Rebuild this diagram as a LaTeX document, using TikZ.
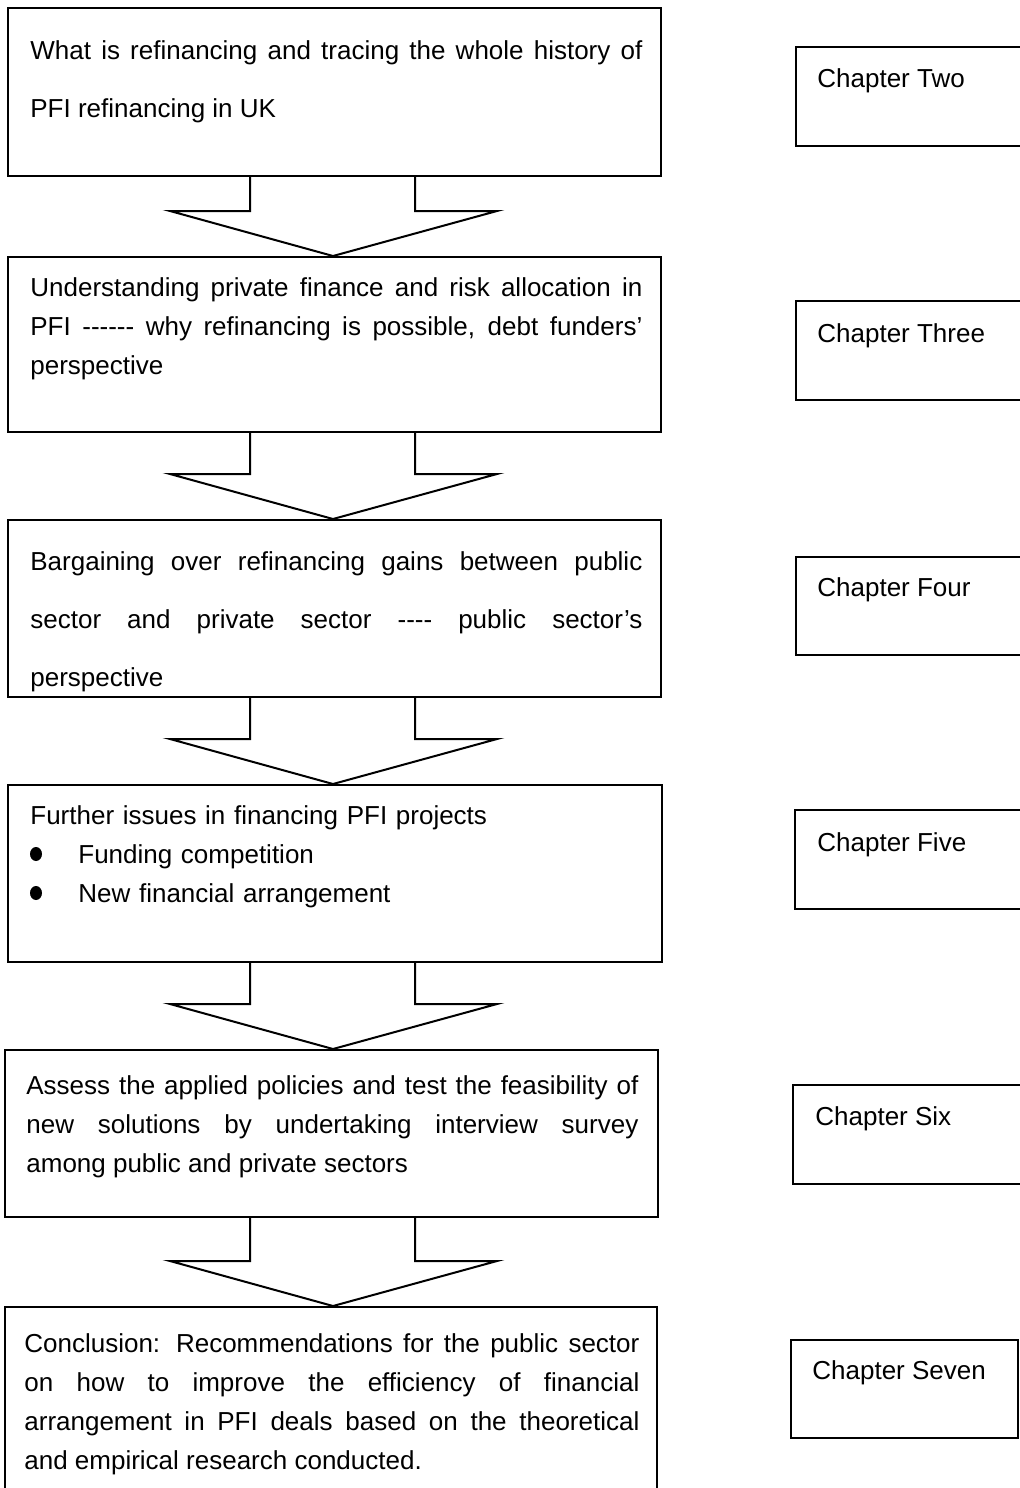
\documentclass[tikz,border=0pt]{standalone}
\usepackage{fontspec}
\setmainfont{Liberation Sans}
\usetikzlibrary{calc,fit}

\tikzset{
  frame/.style={draw, line width=1pt, inner sep=0pt},
  body/.style={anchor=base west, inner sep=0pt, text width=306pt, align=justify,
    font=\fontsize{13pt}{19.5pt}\selectfont},
  wide/.style={font=\fontsize{13pt}{29pt}\selectfont},
  chap/.style={anchor=base west, inner sep=0pt, font=\fontsize{13pt}{16pt}\selectfont},
  blockarrow/.style={draw, line width=1pt, line join=miter}
}

% hollow block arrow from the bottom of one box to the top of the next
\newcommand\flowarrow[2]{%
  \draw[blockarrow] (#1.south -| sl) -- ($(#2.north -| sl)+(0,-45)$)
    -- ($(#2.north -| hl)+(0,-45)$) -- (#2.north -| tp)
    -- ($(#2.north -| hr)+(0,-45)$) -- ($(#2.north -| sr)+(0,-45)$)
    -- (#1.south -| sr);}

\begin{document}
\begin{tikzpicture}[x=0.5pt, y=-0.5pt]
    \useasboundingbox (0,0) rectangle (1020,1488);
    \clip (0,0) rectangle (1020,1488);

    % stem and head columns of the arrows
    \coordinate (sl) at (250,0);
    \coordinate (sr) at (415,0);
    \coordinate (hl) at (170,0);
    \coordinate (hr) at (497,0);
    \coordinate (tp) at (333,0);

    % main column
    \node[frame, fit={(8,8) (661,176)}] (b1) {};
    \node[frame, fit={(8,257) (661,432)}] (b2) {};
    \node[frame, fit={(8,520) (661,697)}] (b3) {};
    \node[frame, fit={(8,785) (662,962)}] (b4) {};
    \node[frame, fit={(5,1050) (658,1217)}] (b5) {};
    \node[frame, fit={(5,1307) (657,1510)}] (b6) {};

    \node[body, wide] (t1) at (30,59) {What is refinancing and tracing the whole history of\linebreak
      PFI refinancing in UK};
    \node[body] (t2) at (30,296) {Understanding private finance and risk allocation in\linebreak
      PFI -{}-{}-{}-{}-{}- why refinancing is possible, debt funders’\linebreak perspective};
    \node[body, wide] (t3) at (30,570) {Bargaining over refinancing gains between public\linebreak
      sector and private sector -{}-{}-{}- public sector’s\linebreak perspective};
    \node[body, align=left] (t4) at (30,824) {Further issues in financing PFI projects\\
      \hspace*{24pt}Funding competition\\ \hspace*{24pt}New financial arrangement};
    \fill (36,854) ellipse (6 and 7);
    \fill (36,893) ellipse (6 and 7);
    \node[body] (t5) at (26,1094) {Assess the applied policies and test the feasibility of\linebreak
      new solutions by undertaking interview survey\linebreak among public and private sectors};
    \node[body, text width=307.5pt] (t6) at (24,1352) {Conclusion: Recommendations for the public sector\linebreak
      on how to improve the efficiency of financial\linebreak arrangement in PFI deals based on the theoretical\linebreak
      and empirical research conducted.};

    \flowarrow{b1}{b2}
    \flowarrow{b2}{b3}
    \flowarrow{b3}{b4}
    \flowarrow{b4}{b5}
    \flowarrow{b5}{b6}

    % chapter column
    \node[frame, fit={(796,47) (1030,146)}] (c2) {};
    \node[frame, fit={(796,301) (1030,400)}] (c3) {};
    \node[frame, fit={(796,557) (1030,655)}] (c4) {};
    \node[frame, fit={(795,810) (1030,909)}] (c5) {};
    \node[frame, fit={(793,1085) (1030,1184)}] (c6) {};
    \node[frame, fit={(791,1340) (1018,1438)}] (c7) {};

    \node[chap] (l2) at (817,87) {Chapter Two};
    \node[chap] (l3) at (817,342) {Chapter Three};
    \node[chap] (l4) at (817,596) {Chapter Four};
    \node[chap] (l5) at (817,851) {Chapter Five};
    \node[chap] (l6) at (815,1125) {Chapter Six};
    \node[chap] (l7) at (812,1379) {Chapter Seven};
\end{tikzpicture}
\end{document}
